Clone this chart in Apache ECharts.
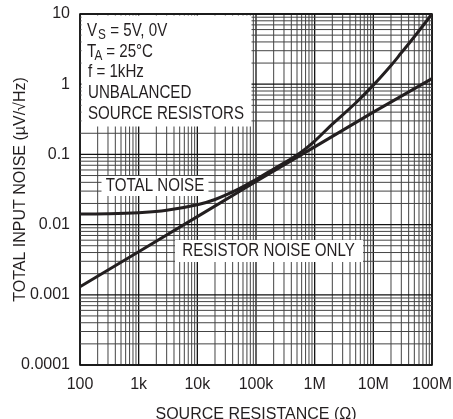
<!DOCTYPE html>
<html>
<head>
<meta charset="utf-8">
<script src="https://cdn.jsdelivr.net/npm/echarts@6/dist/echarts.min.js"></script>
<style>
html,body{margin:0;padding:0;background:#fff;}
#chart{width:453px;height:419px;}
</style>
</head>
<body>
<div id="chart"></div>
<script>
// ---- data ----
const resistance = [100, 300, 1e3, 3e3, 1e4, 2e4, 5e4, 1e5, 2e5, 5e5, 1e6, 2e6, 5e6, 1e7, 2e7, 3e7, 5e7, 1e8];
const totalNoise = [0.0142, 0.0143, 0.0148, 0.016, 0.0192, 0.0228, 0.032, 0.044, 0.062, 0.098, 0.155, 0.27, 0.54, 0.97, 1.85, 2.8, 4.75, 10];
const resistorR = [100, 1e3, 1e4, 1e5, 1e6, 1e7, 1e8];
const resistorNoise = [0.0013, 0.0041, 0.013, 0.041, 0.128, 0.40, 1.2];
const xTickLabels = ['100', '1k', '10k', '100k', '1M', '10M', '100M'];
const yTickLabels = ['0.0001', '0.001', '0.01', '0.1', '1', '10'];

const X_MIN = 100, X_MAX = 1e8, Y_MIN = 1e-4, Y_MAX = 10;
const FONT = "'Liberation Sans', Arial, sans-serif";
const INK = '#231f20';
const SQ = 0.84; // horizontal squeeze for condensed look of annotation text

// grid line positions (1..9 per decade)
const xGrid = [], yGrid = [];
for (let e = 2; e <= 8; e++) for (let m = 1; m <= 9; m++) { const v = m * Math.pow(10, e); if (v <= X_MAX) xGrid.push([v, Y_MIN, m === 1 ? 1 : 0]); }
for (let e = -4; e <= 1; e++) for (let m = 1; m <= 9; m++) { const v = m * Math.pow(10, e); if (v <= Y_MAX * 1.0001) yGrid.push([X_MIN, v, m === 1 ? 1 : 0]); }

const chart = echarts.init(document.getElementById('chart'), null, {renderer: 'canvas'});

function gridLine(vertical) {
  return function (params, api) {
    const major = api.value(2) === 1;
    let p1, p2;
    if (vertical) { const x = api.value(0); p1 = api.coord([x, Y_MIN]); p2 = api.coord([x, Y_MAX]); }
    else { const y = api.value(1); p1 = api.coord([X_MIN, y]); p2 = api.coord([X_MAX, y]); }
    return {type: 'line', shape: {x1: p1[0], y1: p1[1], x2: p2[0], y2: p2[1]},
      style: {stroke: major ? '#111' : '#444', lineWidth: major ? 1.3 : 1}};
  };
}

const txt = (text, x, y, size, align) => ({
  type: 'text', z: 60, x: x, y: y, scaleX: SQ, scaleY: 1,
  style: {text: text, x: 0, y: 0, fill: INK, font: size + 'px ' + FONT,
    textAlign: align || 'left', textVerticalAlign: 'middle'}
});

chart.setOption({
  animation: false,
  backgroundColor: '#fff',
  grid: {left: 80, right: 21, top: 14, bottom: 54, show: true, borderColor: '#000', borderWidth: 1.5,
    backgroundColor: '#fff', containLabel: false, outerBoundsMode: 'none'},
  xAxis: {
    type: 'log', logBase: 10, min: X_MIN, max: X_MAX,
    axisLine: {show: false}, axisTick: {show: false}, splitLine: {show: false},
    axisLabel: {fontFamily: FONT, fontSize: 16, color: INK, margin: 12,
      formatter: v => xTickLabels[Math.round(Math.log10(v)) - 2]},
    name: 'SOURCE RESISTANCE (Ω)', nameLocation: 'middle', nameGap: 42, nameMoveOverlap: false,
    nameTextStyle: {fontFamily: FONT, fontSize: 16, color: INK}
  },
  yAxis: {
    type: 'log', logBase: 10, min: Y_MIN, max: Y_MAX,
    axisLine: {show: false}, axisTick: {show: false}, splitLine: {show: false},
    axisLabel: {fontFamily: FONT, fontSize: 16, color: INK, margin: 10,
      formatter: v => yTickLabels[Math.round(Math.log10(v)) + 4]},
    name: 'TOTAL INPUT NOISE (µV/√Hz)', nameLocation: 'middle', nameGap: 51, nameMoveOverlap: false,
    nameTextStyle: {fontFamily: FONT, fontSize: 16, color: INK}
  },
  series: [
    {type: 'custom', renderItem: gridLine(true), data: xGrid, z: 1, silent: true},
    {type: 'custom', renderItem: gridLine(false), data: yGrid, z: 1, silent: true},
    {type: 'line', data: resistance.map((r, i) => [r, totalNoise[i]]), smooth: 0.4, showSymbol: false,
      lineStyle: {color: INK, width: 3}, z: 70},
    {type: 'line', data: resistorR.map((r, i) => [r, resistorNoise[i]]), smooth: false, showSymbol: false,
      lineStyle: {color: INK, width: 3}, z: 70}
  ],
  graphic: [
    {type: 'rect', z: 50, shape: {x: 81.5, y: 15.5, width: 170, height: 111}, style: {fill: '#fff'}},
    {type: 'rect', z: 50, shape: {x: 101.5, y: 176, width: 107, height: 20}, style: {fill: '#fff'}},
    {type: 'rect', z: 50, shape: {x: 175, y: 240, width: 188, height: 22}, style: {fill: '#fff'}},
    txt('V', 87, 31.5, 18),
    txt('S', 98, 35.5, 14),
    txt(' = 5V, 0V', 106, 31.5, 18),
    txt('T', 87, 52, 18),
    txt('A', 94.5, 56, 14),
    txt(' = 25°C', 102, 52, 18),
    txt('f = 1kHz', 88, 72.5, 18),
    txt('UNBALANCED', 88, 93, 18),
    txt('SOURCE RESISTORS', 88, 114, 18),
    txt('TOTAL NOISE', 155, 186, 18, 'center'),
    txt('RESISTOR NOISE ONLY', 268.5, 251.5, 18, 'center')
  ]
});
</script>
</body>
</html>
